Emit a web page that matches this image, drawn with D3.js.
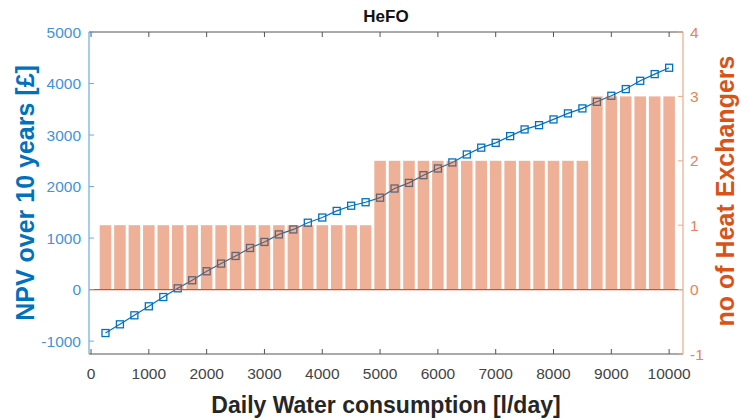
<!DOCTYPE html>
<html>
<head>
<meta charset="utf-8">
<script src="https://cdn.jsdelivr.net/npm/d3@7"></script>
<style>
  body { margin: 0; background: #fff; }
  svg { font-family: "Liberation Sans", Arial, sans-serif; }
</style>
</head>
<body>
<script>
// daily water consumption (l/day)
const consumption = [250, 500, 750, 1000, 1250, 1500, 1750, 2000, 2250, 2500,
  2750, 3000, 3250, 3500, 3750, 4000, 4250, 4500, 4750, 5000,
  5250, 5500, 5750, 6000, 6250, 6500, 6750, 7000, 7250, 7500,
  7750, 8000, 8250, 8500, 8750, 9000, 9250, 9500, 9750, 10000];
// NPV over 10 years (£)
const npv = [-843, -674, -499, -324, -144, 25, 181, 356, 505, 653,
  808, 925, 1071, 1168, 1298, 1399, 1527, 1628, 1696, 1784,
  1962, 2071, 2221, 2351, 2468, 2623, 2755, 2849, 2979, 3109,
  3192, 3303, 3420, 3517, 3645, 3762, 3892, 4053, 4183, 4306];
// number of heat exchangers
const exchangers = [1, 1, 1, 1, 1, 1, 1, 1, 1, 1,
  1, 1, 1, 1, 1, 1, 1, 1, 1, 2,
  2, 2, 2, 2, 2, 2, 2, 2, 2, 2,
  2, 2, 2, 2, 3, 3, 3, 3, 3, 3];
const xTicks = [0, 1000, 2000, 3000, 4000, 5000, 6000, 7000, 8000, 9000, 10000];
const yLeftTicks = [-1000, 0, 1000, 2000, 3000, 4000, 5000];
const yRightTicks = [-1, 0, 1, 2, 3, 4];

const data = consumption.map((c, i) => ({ c: c, npv: npv[i], n: exchangers[i] }));

const blue = '#0072BD', orange = '#D95319', dark = '#262626';
const pLeft = 89, pRight = 683, pTop = 32, pBottom = 354;

const svg = d3.select('body').append('svg')
  .attr('width', 741)
  .attr('height', 420);

const x = d3.scaleLinear().domain([-35, 10240]).range([pLeft, pRight]);
const yL = d3.scaleLinear().domain([-1250, 5000]).range([pBottom, pTop]);
const yR = d3.scaleLinear().domain([-1, 4]).range([pBottom, pTop]);

// NPV line (drawn under the translucent bars)
svg.append('path')
  .datum(data)
  .attr('fill', 'none')
  .attr('stroke', blue)
  .attr('stroke-width', 1.2)
  .attr('d', d3.line().x(d => x(d.c)).y(d => yL(d.npv)));

svg.selectAll('rect.marker')
  .data(data)
  .enter()
  .append('rect')
  .attr('class', 'marker')
  .attr('x', d => x(d.c) - 3.5)
  .attr('y', d => yL(d.npv) - 3.5)
  .attr('width', 7)
  .attr('height', 7)
  .attr('fill', 'none')
  .attr('stroke', blue)
  .attr('stroke-width', 1.3);

// bars
const bw = x(200) - x(0);
svg.selectAll('rect.bar')
  .data(data)
  .enter()
  .append('rect')
  .attr('class', 'bar')
  .attr('x', d => x(d.c) - bw / 2)
  .attr('y', d => yR(d.n))
  .attr('width', bw)
  .attr('height', d => yR(0) - yR(d.n))
  .attr('fill', orange)
  .attr('fill-opacity', 0.45);

// bar baseline
svg.append('line')
  .attr('x1', pLeft).attr('x2', pRight)
  .attr('y1', yR(0)).attr('y2', yR(0))
  .attr('stroke', orange)
  .attr('stroke-width', 1.2);

// top and bottom axes
[pTop, pBottom].forEach((yy, k) => {
  svg.append('line')
    .attr('x1', pLeft).attr('x2', pRight)
    .attr('y1', yy).attr('y2', yy)
    .attr('stroke', '#555').attr('stroke-width', 1);
  svg.selectAll(null)
    .data(xTicks)
    .enter()
    .append('line')
    .attr('x1', d => x(d)).attr('x2', d => x(d))
    .attr('y1', yy).attr('y2', k === 0 ? yy + 5 : yy - 5)
    .attr('stroke', '#555');
});

svg.selectAll('text.xtick')
  .data(xTicks)
  .enter()
  .append('text')
  .attr('class', 'xtick')
  .attr('x', d => x(d))
  .attr('y', 379)
  .attr('text-anchor', 'middle')
  .attr('font-size', 15.5)
  .attr('fill', '#444')
  .text(d => d);

// left axis
svg.append('line')
  .attr('x1', pLeft).attr('x2', pLeft)
  .attr('y1', pTop).attr('y2', pBottom)
  .attr('stroke', '#6aaee0').attr('stroke-width', 1.2);
svg.selectAll('line.ltick')
  .data(yLeftTicks)
  .enter()
  .append('line')
  .attr('class', 'ltick')
  .attr('x1', pLeft).attr('x2', pLeft + 5)
  .attr('y1', d => yL(d)).attr('y2', d => yL(d))
  .attr('stroke', '#6aaee0');
svg.selectAll('text.ltick')
  .data(yLeftTicks)
  .enter()
  .append('text')
  .attr('class', 'ltick')
  .attr('x', 81)
  .attr('y', d => yL(d) + 5.5)
  .attr('text-anchor', 'end')
  .attr('font-size', 15.5)
  .attr('fill', '#3f94d6')
  .text(d => d);

// right axis
svg.append('line')
  .attr('x1', pRight).attr('x2', pRight)
  .attr('y1', pTop).attr('y2', pBottom)
  .attr('stroke', '#f0a888').attr('stroke-width', 1.2);
svg.selectAll('line.rtick')
  .data(yRightTicks)
  .enter()
  .append('line')
  .attr('class', 'rtick')
  .attr('x1', pRight).attr('x2', pRight - 5)
  .attr('y1', d => yR(d)).attr('y2', d => yR(d))
  .attr('stroke', '#f0a888');
svg.selectAll('text.rtick')
  .data(yRightTicks)
  .enter()
  .append('text')
  .attr('class', 'rtick')
  .attr('x', 690)
  .attr('y', d => yR(d) + 5.5)
  .attr('font-size', 15.5)
  .attr('fill', '#e5835a')
  .text(d => d);

// title and labels
svg.append('text')
  .attr('x', 386).attr('y', 22)
  .attr('text-anchor', 'middle')
  .attr('font-size', 17)
  .attr('font-weight', 'bold')
  .attr('fill', '#111')
  .text('HeFO');

svg.append('text')
  .attr('x', 386).attr('y', 413)
  .attr('text-anchor', 'middle')
  .attr('font-size', 23)
  .attr('font-weight', 'bold')
  .attr('fill', dark)
  .text('Daily Water consumption [l/day]');

svg.append('text')
  .attr('transform', 'translate(34,193) rotate(-90)')
  .attr('text-anchor', 'middle')
  .attr('font-size', 25)
  .attr('font-weight', 'bold')
  .attr('fill', blue)
  .text('NPV over 10 years [£]');

svg.append('text')
  .attr('transform', 'translate(734,191) rotate(-90)')
  .attr('text-anchor', 'middle')
  .attr('font-size', 25)
  .attr('font-weight', 'bold')
  .attr('fill', orange)
  .text('no of Heat Exchangers');
</script>
</body>
</html>
